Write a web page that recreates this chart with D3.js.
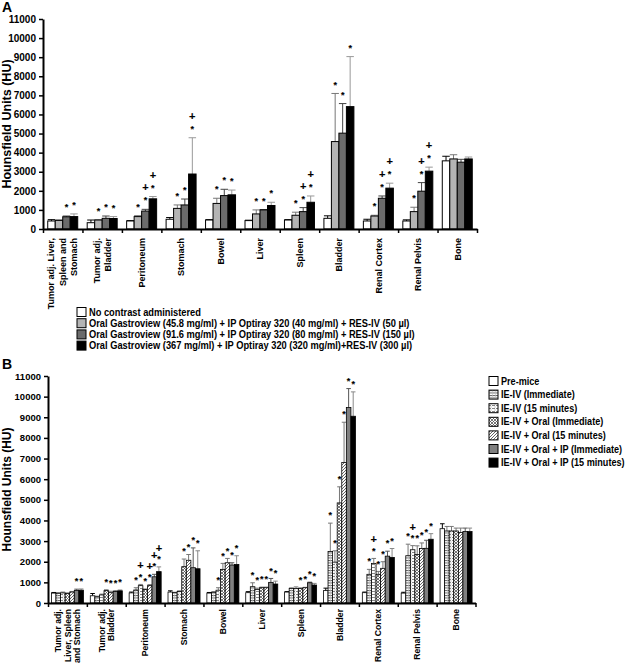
<!DOCTYPE html>
<html>
<head>
<meta charset="utf-8">
<script src="https://cdn.jsdelivr.net/npm/d3@7"></script>
<style>
body { margin: 0; background: #fff; }
svg { display: block; }
text { font-family: "Liberation Sans", Arial, sans-serif; font-weight: bold; fill: #000; }
</style>
</head>
<body>
<svg id="chart" width="632" height="663"></svg>
<script>
(function () {
    "use strict";

    // ---------- panel A data ----------
    var categoriesA = [["Tumor adj. Liver,", "Spleen and", "Stomach"], ["Tumor adj.", "Bladder"], ["Peritoneum"],
        ["Stomach"], ["Bowel"], ["Liver"], ["Spleen"], ["Bladder"], ["Renal Cortex"], ["Renal Pelvis"], ["Bone"]];
    var seriesA = [
        "No contrast administered",
        "Oral Gastroview (45.8 mg/ml) + IP Optiray 320 (40 mg/ml) + RES-IV (50 \u00b5l)",
        "Oral Gastroview (91.6 mg/ml) + IP Optiray 320 (80 mg/ml) + RES-IV (150 \u00b5l)",
        "Oral Gastroview (367 mg/ml)  + IP Optiray 320 (320 mg/ml)+RES-IV (300 \u00b5l)"
    ];
    // one row per series, one value per category
    var valuesA = [
        [420, 330, 420, 510, 470, 440, 470, 560, 420, 420, 3570],
        [450, 470, 650, 1080, 1340, 790, 720, 4580, 680, 910, 3670],
        [640, 560, 940, 1260, 1750, 1000, 910, 5020, 1610, 1980, 3500],
        [650, 550, 1580, 2880, 1790, 1230, 1400, 6410, 2140, 3030, 3670]
    ];
    var errorsA = [
        [70, 140, 20, 90, 20, 20, 20, 130, 90, 60, 240],
        [30, 20, 50, 180, 270, 210, 160, 2520, 40, 230, 220],
        [40, 120, 90, 310, 330, 20, 210, 1550, 120, 450, 150],
        [140, 100, 120, 1900, 250, 170, 330, 2620, 260, 210, 100]
    ];
    // [category, series, symbols from bottom to top]
    var marksA = [
        [0, 2, "*"], [0, 3, "*"],
        [1, 1, "*"], [1, 2, "*"], [1, 3, "*"],
        [2, 1, "*"], [2, 2, "*+"], [2, 3, "*+"],
        [3, 1, "*"], [3, 2, "*"], [3, 3, "*+"],
        [4, 1, "*"], [4, 2, "*"], [4, 3, "*"],
        [5, 1, "*"], [5, 2, "*"], [5, 3, "*"],
        [6, 1, "*"], [6, 2, "*+"], [6, 3, "*+"],
        [7, 1, "*"], [7, 2, "*"], [7, 3, "*"],
        [8, 1, "*"], [8, 2, "*+"], [8, 3, "*+"],
        [9, 1, "*"], [9, 2, "*+"], [9, 3, "*+"]
    ];

    // ---------- panel B data ----------
    var categoriesB = [["Tumor adj.", "Liver, Spleen", "and Stomach"], ["Tumor adj.", "Bladder"], ["Peritoneum"],
        ["Stomach"], ["Bowel"], ["Liver"], ["Spleen"], ["Bladder"], ["Renal Cortex"], ["Renal Pelvis"], ["Bone"]];
    var seriesB = ["Pre-mice", "IE-IV (Immediate)", "IE-IV (15 minutes)", "IE-IV + Oral (Immediate)",
        "IE-IV + Oral (15 minutes)", "IE-IV + Oral + IP (Immediate)", "IE-IV + Oral + IP (15 minutes)"];
    var valuesB = [
        [480, 350, 490, 530, 480, 500, 530, 600, 500, 480, 3600],
        [470, 300, 630, 500, 520, 790, 710, 2500, 1390, 2290, 3490],
        [490, 390, 840, 560, 620, 660, 700, 1980, 1920, 2580, 3490],
        [460, 600, 650, 1760, 1630, 740, 710, 4850, 1390, 2350, 3490],
        [530, 500, 840, 2070, 1950, 740, 740, 6810, 1680, 2640, 3420],
        [610, 560, 1270, 1710, 1840, 1000, 980, 9470, 2270, 2650, 3460],
        [620, 590, 1520, 1660, 1870, 920, 870, 9050, 2210, 3090, 3460]
    ];
    var errorsB = [
        [30, 110, 40, 60, 30, 50, 20, 120, 30, 40, 240],
        [30, 30, 110, 20, 30, 190, 20, 1370, 240, 560, 220],
        [40, 40, 60, 30, 120, 60, 80, 550, 240, 200, 220],
        [30, 40, 30, 370, 290, 30, 20, 780, 140, 420, 140],
        [30, 70, 50, 280, 210, 30, 20, 1950, 320, 270, 210],
        [60, 30, 120, 960, 110, 190, 30, 920, 240, 390, 170],
        [60, 40, 230, 870, 420, 140, 80, 1180, 430, 270, 170]
    ];
    var marksB = [
        [0, 5, "*"], [0, 6, "*"],
        [1, 3, "*"], [1, 4, "*"], [1, 5, "*"], [1, 6, "*"],
        [2, 1, "*"], [2, 2, "*+"], [2, 3, "*"], [2, 4, "*+"], [2, 5, "*+"], [2, 6, "*+"],
        [3, 3, "*"], [3, 4, "*"], [3, 5, "*"], [3, 6, "*"],
        [4, 2, "*"], [4, 3, "*"], [4, 4, "*"], [4, 5, "*"], [4, 6, "*"],
        [5, 1, "*"], [5, 2, "*"], [5, 3, "*"], [5, 4, "*"], [5, 5, "*"], [5, 6, "*"],
        [6, 3, "*"], [6, 4, "*"], [6, 5, "*"], [6, 6, "*"],
        [7, 1, "*"], [7, 2, "*"], [7, 3, "*"], [7, 4, "*"], [7, 5, "*"], [7, 6, "*"],
        [8, 1, "*"], [8, 2, "*+"], [8, 3, "*"], [8, 4, "*"], [8, 5, "*"], [8, 6, "*"],
        [9, 1, "*"], [9, 2, "*+"], [9, 3, "*"], [9, 4, "*"], [9, 5, "*"], [9, 6, "*"]
    ];

    var yTicks = d3.range(0, 11001, 1000);

    var svg = d3.select("#chart");
    var defs = svg.append("defs");

    function pattern(id, w, h, draw) {
        var p = defs.append("pattern")
            .attr("id", id)
            .attr("patternUnits", "userSpaceOnUse")
            .attr("width", w)
            .attr("height", h);
        p.append("rect").attr("width", w).attr("height", h).attr("fill", "#fff");
        draw(p);
    }
    // horizontal lines with faint verticals
    pattern("pHoriz", 3, 2.5, function (p) {
        p.append("path").attr("d", "M0,0.5H3").attr("stroke", "#555").attr("stroke-width", 0.9);
        p.append("path").attr("d", "M0.5,0V2.5").attr("stroke", "#bbb").attr("stroke-width", 0.5);
    });
    // horizontal dashes
    pattern("pDash", 4, 3, function (p) {
        p.append("path").attr("d", "M0,0.5H3").attr("stroke", "#777").attr("stroke-width", 0.9);
        p.append("path").attr("d", "M2,2H4").attr("stroke", "#aaa").attr("stroke-width", 0.6);
    });
    // cross hatch
    pattern("pCross", 3, 3, function (p) {
        p.append("path").attr("d", "M0,3L3,0M-1,1L1,-1M2,4L4,2M0,0L3,3M-1,2L1,4M2,-1L4,1")
            .attr("stroke", "#555").attr("stroke-width", 0.8);
    });
    // single diagonal
    pattern("pDiag", 3, 3, function (p) {
        p.append("path").attr("d", "M0,3L3,0M-1,1L1,-1M2,4L4,2")
            .attr("stroke", "#666").attr("stroke-width", 1);
    });

    var fillsA = ["#ffffff", "#b4b4b4", "#6b6b6b", "#000000"];
    var errColorsA = ["#000", "#777", "#444", "#999"];
    var fillsB = ["#ffffff", "url(#pHoriz)", "url(#pDash)", "url(#pCross)", "url(#pDiag)", "#808080", "#000000"];
    var errColorsB = ["#000", "#777", "#777", "#777", "#777", "#555", "#888"];

    function drawPanel(o) {
        var n = o.cats.length;
        var x0 = d3.scaleBand()
            .domain(d3.range(n))
            .range([o.left, o.right])
            .paddingInner(o.pad)
            .paddingOuter(o.pad / 2);
        var x1 = d3.scaleBand()
            .domain(d3.range(o.values.length))
            .range([0, x0.bandwidth()]);
        var xb = d3.scaleLinear().domain([0, n]).range([o.left, o.right]);
        var y = d3.scaleLinear().domain([0, 11000]).range([o.bottom, o.top]);
        var g = svg.append("g");

        var rows = [];
        o.values.forEach(function (vals, si) {
            vals.forEach(function (v, ci) {
                rows.push({s: si, c: ci, v: v, e: o.errors[si][ci]});
            });
        });

        // error bars (drawn first, bar covers the part below its top)
        var eg = g.append("g");
        rows.forEach(function (d) {
            var cx = x0(d.c) + x1(d.s) + x1.bandwidth() / 2;
            var cap = Math.max(2, x1.bandwidth() * 0.5);
            eg.append("path")
                .attr("d", "M" + cx + "," + y(d.v) + "V" + y(d.v + d.e) +
                    "M" + (cx - cap) + "," + y(d.v + d.e) + "H" + (cx + cap))
                .attr("fill", "none")
                .attr("stroke", o.errColors[d.s])
                .attr("stroke-width", 1);
        });

        g.append("g").selectAll("rect")
            .data(rows)
            .enter()
            .append("rect")
            .attr("x", function (d) { return x0(d.c) + x1(d.s); })
            .attr("y", function (d) { return y(d.v); })
            .attr("width", x1.bandwidth())
            .attr("height", function (d) { return y(0) - y(d.v); })
            .attr("fill", function (d) { return o.fills[d.s]; })
            .attr("stroke", "#000")
            .attr("stroke-width", o.barStroke);

        // significance marks
        var mg = g.append("g");
        o.marks.forEach(function (m) {
            var ci = m[0], si = m[1];
            var top = o.values[si][ci] + o.errors[si][ci];
            var cx = x0(ci) + x1(si) + x1.bandwidth() / 2;
            var base = y(top) - o.markGap;
            m[2].split("").forEach(function (ch, k) {
                var cy = base - k * o.markStep;
                var fs = ch === "+" ? 11 : 9;
                mg.append("text")
                    .attr("x", cx)
                    .attr("y", cy + (ch === "+" ? 0.36 : 0.57) * fs)
                    .attr("text-anchor", "middle")
                    .attr("font-size", fs)
                    .attr("fill", "#000")
                    .attr("stroke", "#000")
                    .attr("stroke-width", 0.15)
                    .text(ch);
            });
        });

        // axes
        var ya = g.append("g")
            .attr("transform", "translate(" + o.left + ",0)")
            .call(d3.axisLeft(y).tickValues(yTicks).tickFormat(d3.format("d")).tickSize(4).tickSizeOuter(0).tickPadding(3));
        ya.select(".domain").attr("stroke-width", 2);
        ya.selectAll(".tick line").attr("stroke-width", 1.5);
        ya.selectAll(".tick text").attr("font-size", o.tickFont).attr("font-family", null);

        var xa = g.append("g")
            .attr("transform", "translate(0," + o.bottom + ")")
            .call(d3.axisBottom(xb).tickValues(d3.range(n + 1)).tickFormat("").tickSize(4).tickSizeOuter(0));
        xa.select(".domain").attr("stroke-width", 2);
        xa.selectAll(".tick line").attr("stroke-width", 1.5);

        // category labels, rotated
        o.cats.forEach(function (lines, ci) {
            var cx = x0(ci) + x0.bandwidth() / 2;
            lines.forEach(function (line, li) {
                var lx = cx + (li - (lines.length - 1) / 2) * o.lineStep + 0.36 * o.catFont;
                g.append("text")
                    .attr("transform", "translate(" + lx + "," + (o.bottom + o.catGap) + ") rotate(-90)")
                    .attr("text-anchor", "end")
                    .attr("font-size", o.catFont)
                    .text(line);
            });
        });

        // y title
        g.append("text")
            .attr("transform", "translate(11," + ((o.top + o.bottom) / 2) + ") rotate(-90)")
            .attr("text-anchor", "middle")
            .attr("font-size", o.titleFont)
            .text("Hounsfield Units (HU)");

        // panel letter
        svg.append("text")
            .attr("x", 2)
            .attr("y", o.letterY)
            .attr("font-family", "'Liberation Serif', 'Times New Roman', serif")
            .attr("font-size", 14)
            .text(o.letter);
    }

    function drawLegend(names, fills, lx, ly, step, ratio) {
        var lg = svg.append("g");
        names.forEach(function (name, i) {
            var cy = ly + i * step;
            lg.append("rect")
                .attr("x", lx)
                .attr("y", cy - 4.5)
                .attr("width", 9)
                .attr("height", 9)
                .attr("fill", fills[i])
                .attr("stroke", "#000")
                .attr("stroke-width", 1);
            // narrow face: squeeze a normal bold face horizontally
            lg.append("text")
                .attr("transform", "translate(" + (lx + 12) + "," + (cy + 3.6) + ") scale(" + ratio + ",1)")
                .attr("font-size", 10)
                .text(name);
        });
    }

    drawPanel({
        letter: "A", letterY: 12,
        cats: categoriesA, values: valuesA, errors: errorsA, marks: marksA,
        fills: fillsA, errColors: errColorsA,
        left: 43, right: 477, top: 19, bottom: 229, pad: 0.24,
        barStroke: 1, markGap: 11, markStep: 11,
        tickFont: 10, catFont: 9, catGap: 9, lineStep: 11.5, titleFont: 12.5
    });
    drawLegend(seriesA, fillsA, 77, 312, 11.2, 0.93);

    drawPanel({
        letter: "B", letterY: 369,
        cats: categoriesB, values: valuesB, errors: errorsB, marks: marksB,
        fills: fillsB, errColors: errColorsB,
        left: 48, right: 475.5, top: 376, bottom: 603, pad: 0.176,
        barStroke: 0.8, markGap: 10, markStep: 9,
        tickFont: 9.5, catFont: 8.6, catGap: 6, lineStep: 9.5, titleFont: 12
    });
    drawLegend(seriesB, fillsB, 489, 381, 13.6, 0.91);
}());
</script>
</body>
</html>
